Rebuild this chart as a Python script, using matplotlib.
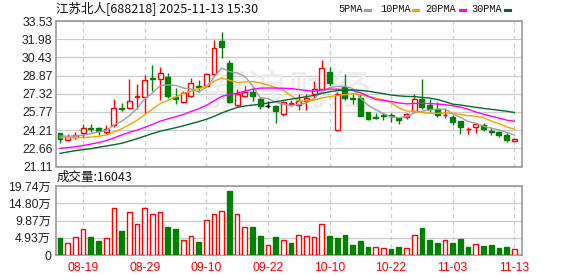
import numpy as np
import matplotlib
matplotlib.use("Agg")
import matplotlib.pyplot as plt
from matplotlib.lines import Line2D

# trading days shown (08-14 .. 11-13)
dates = ["08-14", "08-15", "08-18", "08-19", "08-20", "08-21", "08-22", "08-25", "08-26", "08-27",
         "08-28", "08-29", "09-01", "09-02", "09-03", "09-04", "09-05", "09-08", "09-09", "09-10",
         "09-11", "09-12", "09-15", "09-16", "09-17", "09-18", "09-19", "09-22", "09-23", "09-24",
         "09-25", "09-26", "09-29", "09-30", "10-09", "10-10", "10-13", "10-14", "10-15", "10-16",
         "10-17", "10-20", "10-21", "10-22", "10-23", "10-24", "10-27", "10-28", "10-29", "10-30",
         "10-31", "11-03", "11-04", "11-05", "11-06", "11-07", "11-10", "11-11", "11-12", "11-13"]

opens = [23.94, 23.37, 23.60, 23.94, 24.43, 24.37, 24.03, 24.63, 26.11, 26.08,
         27.05, 27.02, 28.67, 28.56, 28.73, 27.07, 26.65, 27.16, 28.02, 28.02,
         29.01, 31.83, 29.98, 26.36, 27.16, 27.45, 26.85, 26.31, 26.25, 25.62,
         26.42, 26.39, 26.73, 27.33, 27.70, 29.16, 24.23, 27.87, 26.95, 26.93,
         25.76, 25.31, 25.50, 25.48, 25.25, 25.31, 25.88, 26.88, 26.39, 25.99,
         25.49, 25.37, 24.99, 24.27, 24.45, 24.65, 24.11, 24.08, 23.80, 23.31]
highs = [24.00, 23.89, 24.06, 24.71, 24.71, 24.46, 24.68, 26.85, 26.51, 28.56,
         28.16, 28.90, 29.79, 29.59, 29.07, 27.79, 27.56, 28.64, 28.50, 29.07,
         31.92, 32.55, 30.21, 27.70, 27.99, 27.87, 27.02, 26.70, 26.36, 26.73,
         26.78, 27.27, 27.30, 28.41, 30.21, 29.64, 27.50, 29.01, 27.27, 27.27,
         25.76, 25.71, 25.71, 25.71, 25.31, 25.65, 27.30, 28.59, 26.85, 26.59,
         26.08, 25.51, 24.99, 24.51, 24.80, 24.80, 24.51, 24.14, 24.00, 23.57]
lows = [23.14, 23.32, 23.49, 23.52, 24.03, 23.80, 23.86, 24.51, 25.88, 25.99,
        25.99, 25.71, 27.56, 26.79, 26.99, 26.42, 26.50, 27.07, 27.45, 27.93,
        28.93, 30.41, 26.56, 26.28, 27.07, 26.73, 26.05, 26.08, 24.82, 25.42,
        26.25, 25.94, 25.94, 26.88, 27.64, 27.99, 24.17, 26.79, 26.45, 25.45,
        25.08, 25.14, 25.08, 24.91, 24.74, 25.14, 25.88, 25.99, 25.74, 25.37,
        25.28, 24.65, 23.91, 23.91, 24.00, 24.14, 23.80, 23.66, 23.23, 23.31]
closes = [23.43, 23.66, 23.77, 24.43, 24.31, 24.11, 24.29, 26.08, 26.02, 26.68,
          27.13, 28.47, 28.59, 29.07, 27.16, 26.85, 27.36, 28.21, 27.87, 28.98,
          31.21, 31.35, 26.65, 27.30, 27.50, 27.16, 26.28, 26.31, 25.82, 26.58,
          26.55, 26.73, 26.96, 27.76, 29.50, 28.22, 27.27, 26.99, 26.88, 25.45,
          25.17, 25.25, 25.45, 25.40, 25.12, 25.56, 26.88, 26.16, 25.99, 25.48,
          25.52, 24.94, 24.51, 24.30, 24.71, 24.28, 24.05, 23.80, 23.37, 23.46]

# volume in 万
volumes = [4.87, 3.34, 5.06, 7.35, 5.15, 4.00, 4.77, 13.36, 6.87, 12.20,
           8.87, 13.36, 11.73, 12.20, 8.00, 7.44, 4.20, 5.34, 3.72, 9.92,
           11.73, 12.50, 18.30, 11.73, 7.90, 8.00, 5.44, 2.77, 5.06, 4.20,
           3.50, 5.63, 5.34, 5.06, 8.78, 5.44, 4.87, 5.72, 2.86, 4.00,
           2.29, 2.19, 1.91, 1.72, 2.29, 1.91, 5.63, 7.73, 4.29, 3.43,
           4.20, 3.43, 4.58, 2.29, 3.05, 2.58, 2.86, 2.00, 2.29, 1.60]

ma5 = [23.72, 23.70, 23.72, 23.78, 23.92, 24.06, 24.18, 24.64, 24.96, 25.44,
       26.04, 26.88, 27.38, 27.99, 28.08, 28.03, 27.81, 27.73, 27.49, 27.85,
       28.73, 29.52, 29.21, 29.10, 28.80, 27.99, 26.98, 26.91, 26.61, 26.43,
       26.31, 26.40, 26.53, 26.92, 27.50, 27.83, 27.94, 27.95, 27.77, 26.96,
       26.35, 25.95, 25.64, 25.34, 25.28, 25.36, 25.68, 25.82, 25.94, 26.01,
       26.01, 25.62, 25.29, 24.95, 24.80, 24.55, 24.37, 24.23, 24.04, 23.79]
ma10 = [23.58, 23.57, 23.57, 23.58, 23.62, 23.68, 23.80, 24.06, 24.33, 24.68,
        25.05, 25.53, 26.01, 26.47, 26.76, 27.03, 27.34, 27.55, 27.74, 27.97,
        28.38, 28.67, 28.47, 28.29, 28.33, 28.36, 28.25, 28.06, 27.86, 27.62,
        27.15, 26.69, 26.72, 26.77, 26.97, 27.07, 27.17, 27.24, 27.34, 27.23,
        27.09, 26.95, 26.79, 26.56, 26.12, 25.85, 25.82, 25.73, 25.64, 25.65,
        25.68, 25.65, 25.56, 25.45, 25.41, 25.28, 24.99, 24.76, 24.50, 24.29]
ma20 = [22.66, 22.72, 22.80, 22.90, 23.02, 23.15, 23.32, 23.55, 23.80, 24.02,
        24.22, 24.45, 24.70, 24.98, 25.17, 25.35, 25.55, 25.80, 26.03, 26.32,
        26.71, 27.10, 27.24, 27.38, 27.54, 27.70, 27.80, 27.81, 27.80, 27.79,
        27.76, 27.68, 27.60, 27.53, 27.65, 27.72, 27.71, 27.65, 27.60, 27.42,
        27.12, 26.82, 26.76, 26.66, 26.54, 26.46, 26.49, 26.49, 26.49, 26.44,
        26.39, 26.30, 26.18, 26.00, 25.76, 25.57, 25.40, 25.25, 25.07, 24.97]
ma30 = [22.23, 22.35, 22.46, 22.55, 22.63, 22.75, 22.86, 22.97, 23.09, 23.28,
        23.48, 23.70, 23.92, 24.12, 24.27, 24.42, 24.58, 24.76, 24.94, 25.14,
        25.38, 25.68, 25.92, 26.15, 26.28, 26.35, 26.42, 26.53, 26.64, 26.75,
        26.86, 26.96, 27.07, 27.18, 27.35, 27.49, 27.59, 27.62, 27.65, 27.61,
        27.54, 27.43, 27.33, 27.21, 27.14, 27.09, 27.08, 27.01, 26.95, 26.83,
        26.64, 26.43, 26.36, 26.26, 26.16, 26.07, 25.99, 25.91, 25.83, 25.72]

price_ticks = [21.11, 22.66, 24.21, 25.77, 27.32, 28.87, 30.43, 31.98, 33.53]
vol_ticks = [0, 4.93, 9.87, 14.80, 19.74]
vol_tick_labels = ["0", "4.93万", "9.87万", "14.80万", "19.74万"]
tick_dates = ["08-19", "08-29", "09-10", "09-22", "10-10", "10-22", "11-03", "11-13"]
title = "江苏北人[688218] 2025-11-13 15:30"
last_volume = 16043

RED = "#ff0000"
GREEN = "#008000"
MA_COLORS = ["#a0a0a0", "#f5a300", "#ff00ff", "#006b2d"]
MA_NAMES = ["5PMA", "10PMA", "20PMA", "30PMA"]
GRID = "#cccccc"
SPINE = "#999999"

W, H = 578, 276
NUM = ["Liberation Sans", "Noto Sans CJK SC"]
CJK = ["Noto Sans CJK SC", "DejaVu Sans"]


def px(x, y):
    return x / W, 1 - y / H


def style_axes(ax):
    for s in ax.spines.values():
        s.set_color(SPINE)
        s.set_linewidth(1.2)
    ax.tick_params(length=0)
    ax.set_xlim(-0.52, 60.0)
    ax.set_xticks(tick_pos)
    ax.grid(axis="x", color=GRID, lw=0.9, linestyle=(0, (3, 3)))
    ax.grid(axis="y", color=GRID, lw=0.9, linestyle="-")
    ax.set_axisbelow(True)


x = np.arange(len(dates))
o = np.array(opens)
c = np.array(closes)
tick_pos = [dates.index(d) for d in tick_dates]

fig = plt.figure(figsize=(W / 100, H / 100), dpi=100)
ax1 = fig.add_axes([56 / W, 1 - 166.5 / H, 466 / W, 145.5 / H])
ax2 = fig.add_axes([56 / W, 1 - 255 / H, 466 / W, 69 / H])

# candles
cols = np.where(c > o, RED, np.where(c < o, GREEN, "black"))
faces = ["white" if k == RED else k for k in cols]
ax1.vlines(x, lows, highs, colors=cols, lw=1, zorder=3)
ax1.bar(x, np.abs(c - o), bottom=np.minimum(o, c), width=0.64, color=faces,
        edgecolor=cols, linewidth=1, zorder=4)

for ma, col in zip([ma5, ma10, ma20, ma30], MA_COLORS):
    ax1.plot(x, ma, color=col, lw=1, zorder=5)

ax1.text(0.5, 0.5, "新浪财经", transform=ax1.transAxes, fontsize=30, color="#ececec",
         family=CJK, ha="center", va="center", zorder=1)

style_axes(ax1)
ax1.set_ylim(price_ticks[0], price_ticks[-1])
ax1.set_yticks(price_ticks)
ax1.set_yticklabels([f"{v:.2f}" for v in price_ticks], family=NUM, fontsize=8.8, color="#222222")
ax1.tick_params(axis="y", pad=2.5)
ax1.set_xticklabels([])

# volume
vcols = [cols[0]] + [RED if c[i] > c[i - 1] else GREEN for i in range(1, len(c))]
vfaces = ["white" if k == RED else k for k in vcols]
ax2.bar(x, volumes, width=0.62, color=vfaces, edgecolor=vcols, linewidth=1, zorder=3)
style_axes(ax2)
ax2.set_ylim(vol_ticks[0], vol_ticks[-1])
ax2.set_yticks(vol_ticks)
ax2.set_yticklabels(vol_tick_labels, family=NUM, fontsize=8.8, color="#222222")
ax2.tick_params(axis="y", pad=3.5)
ax2.set_xticklabels(tick_dates, family=NUM, fontsize=8.8, color=RED)
ax2.tick_params(axis="x", pad=5)

# header texts
fig.text(*px(56, 8.5), title, family=CJK, fontsize=9, color="#111111", va="center", ha="left")
fig.text(*px(57, 177), f"成交量:{last_volume}", family=CJK, fontsize=9, color="#111111",
         va="center", ha="left")

legend_x = [338.5, 380.5, 425.5, 471.5]
mark_x = [365, 412.5, 459.5, 505]
for name, col, lx, mx in zip(MA_NAMES, MA_COLORS, legend_x, mark_x):
    fig.text(*px(lx, 9.5), name, family=["Liberation Mono"], fontsize=7.4, color="#111111",
             va="center", ha="left")
    fig.add_artist(Line2D([mx / W, (mx + 5) / W], [1 - 10 / H, 1 - 10 / H], color=col, lw=2.2))

fig.savefig("out.png", dpi=100)
